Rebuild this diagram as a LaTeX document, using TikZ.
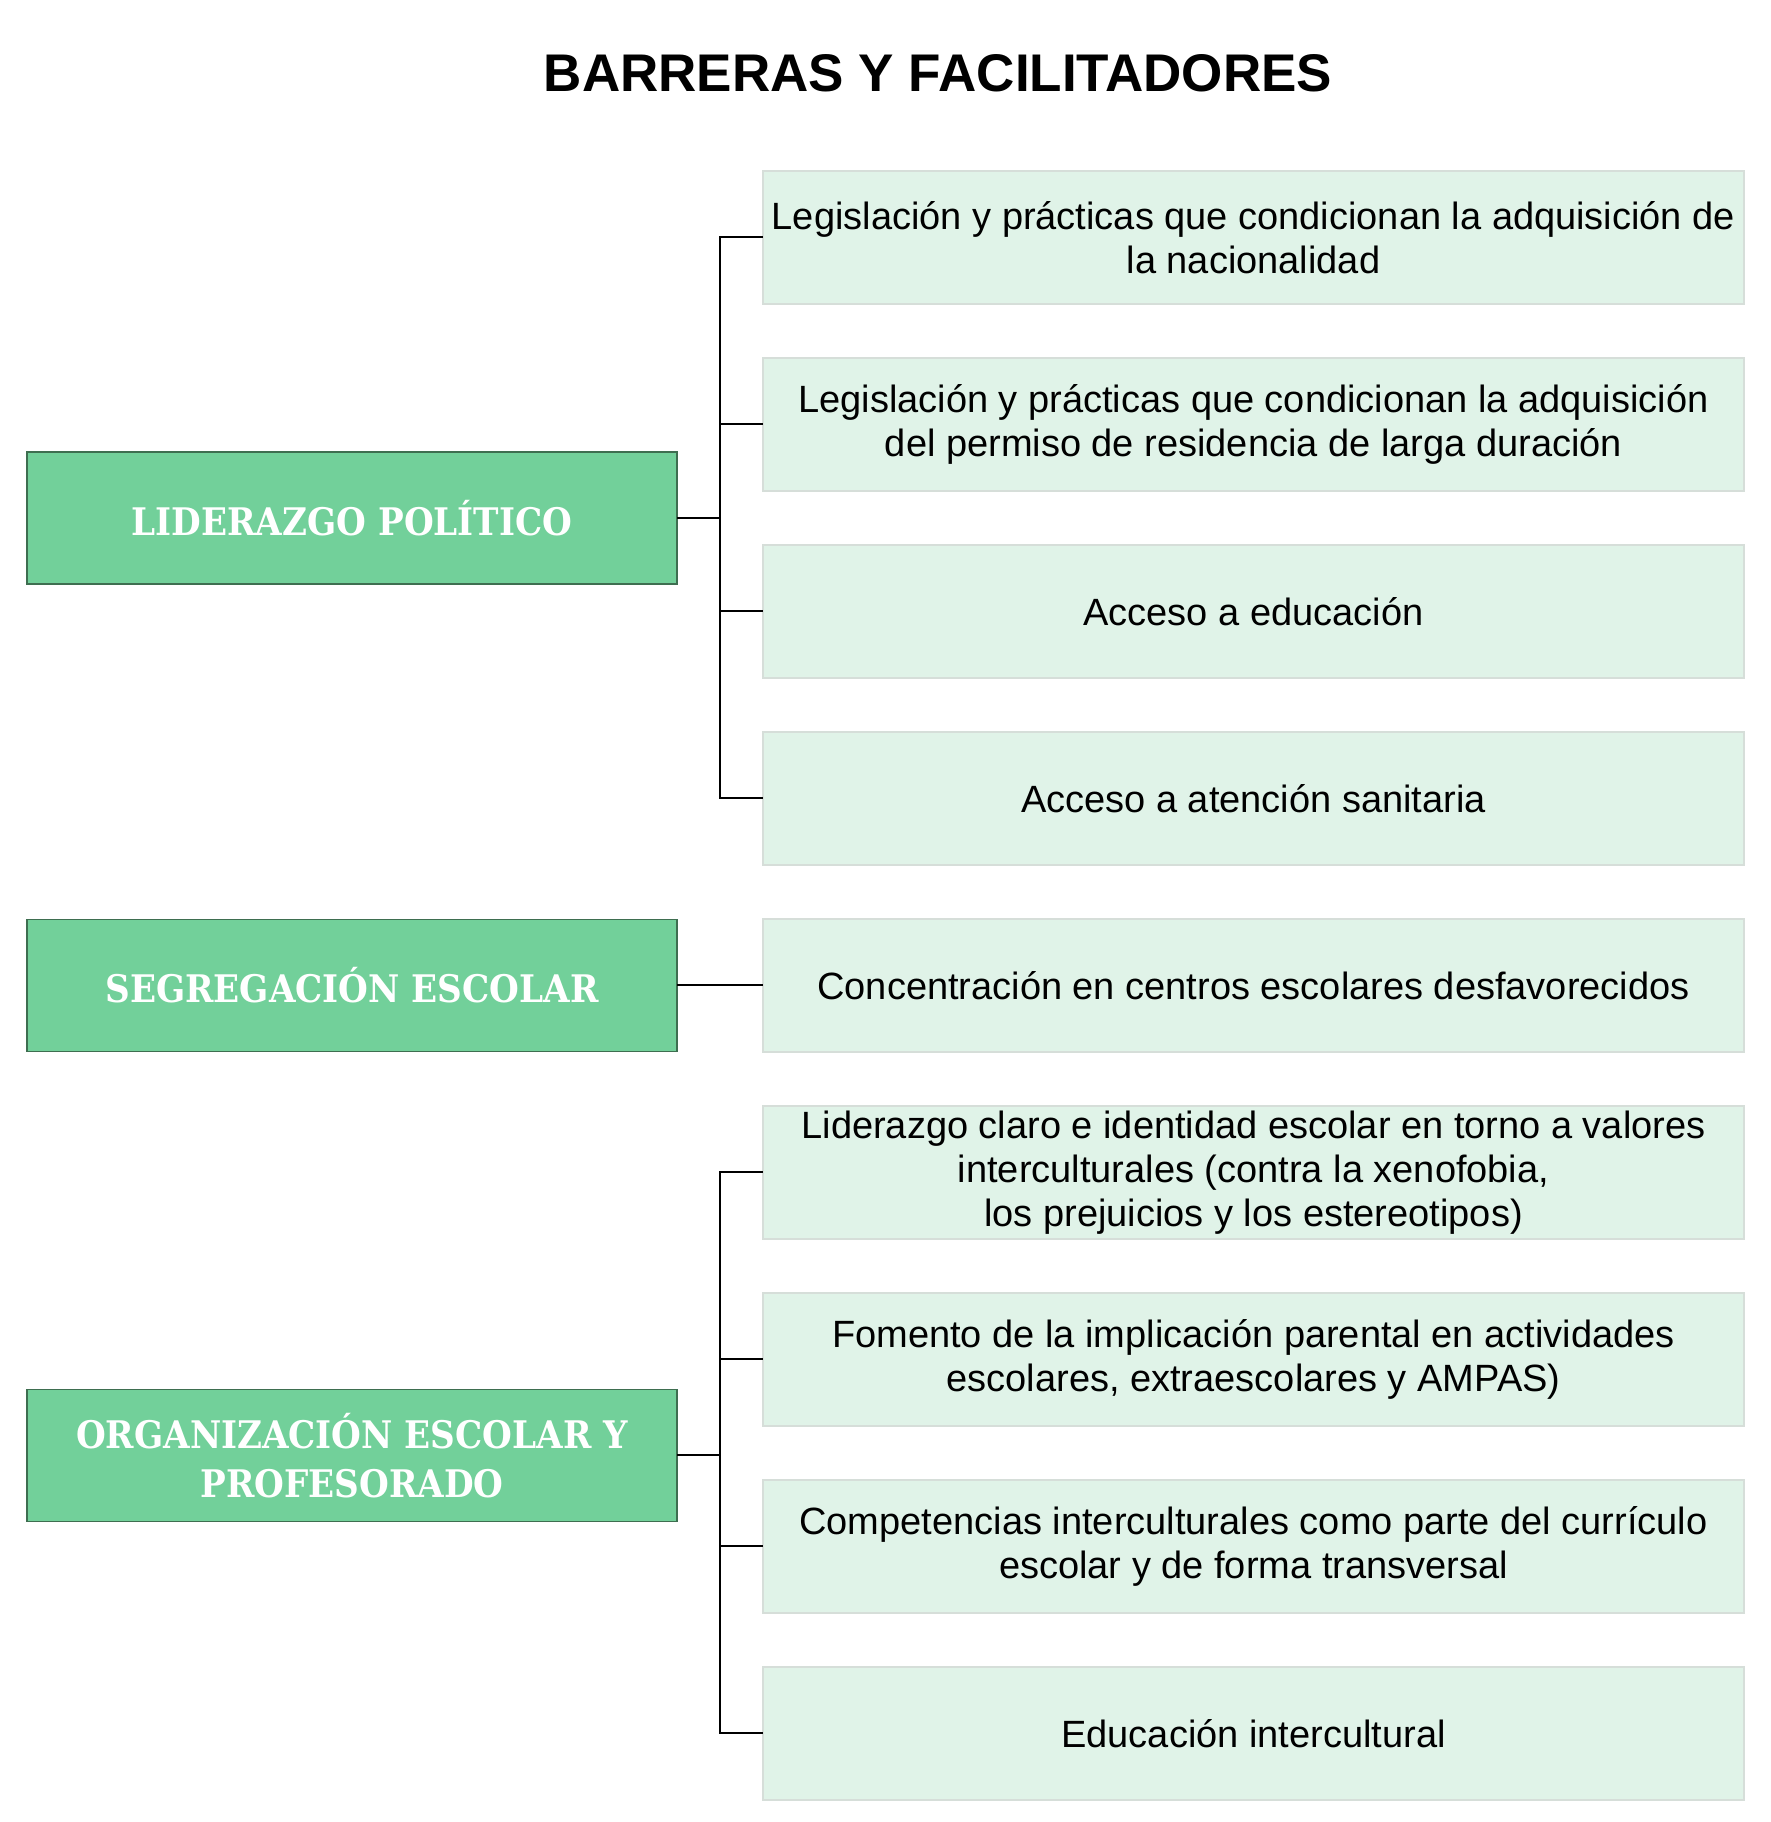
\documentclass[tikz,border=0pt]{standalone}
\usepackage{fontspec}
\setmainfont{Liberation Sans}
\newfontfamily\slabfont{DejaVu Serif Condensed}
\usepackage{xcolor}
\usepackage{tikz}
\usetikzlibrary{positioning}

\definecolor{topicgreen}{RGB}{114,208,154}
\definecolor{topicline}{RGB}{62,110,80}
\definecolor{itemgreen}{RGB}{224,243,232}
\definecolor{itemline}{RGB}{214,222,217}

\tikzset{
  topic/.style={rectangle, draw=topicline, line width=1.2pt, fill=topicgreen,
    minimum width=650pt, minimum height=132pt, inner sep=0pt, outer sep=0pt,
    align=center, text=white, font=\slabfont\bfseries\fontsize{38}{49}\selectfont},
  item/.style={rectangle, draw=itemline, line width=1.5pt, fill=itemgreen,
    minimum width=981pt, minimum height=133pt, inner sep=0pt, outer sep=0pt,
    align=center, text=black, font=\fontsize{38}{44}\selectfont},
  link/.style={line width=2pt, black}
}

\begin{document}
\begin{tikzpicture}[x=1pt, y=1pt]
      \useasboundingbox (0,0) rectangle (1770,1822);

      \node[font=\bfseries\fontsize{53}{58}\selectfont] (title) at (938,1749) {BARRERAS Y FACILITADORES};

      % items on the right
      \node[item] (i1) at (1253.5,1584.5) {Legislación y prácticas que condicionan la adquisición de\\la nacionalidad};
      \node[item, below=54pt of i1] (i2) {Legislación y prácticas que condicionan la adquisición\\del permiso de residencia de larga duración};
      \node[item, below=54pt of i2] (i3) {Acceso a educación};
      \node[item, below=54pt of i3] (i4) {Acceso a atención sanitaria};
      \node[item, below=54pt of i4] (i5) {Concentración en centros escolares desfavorecidos};
      \node[item, below=54pt of i5] (i6) {Liderazgo claro e identidad escolar en torno a valores\\interculturales (contra la xenofobia,\\los prejuicios y los estereotipos)};
      \node[item, below=54pt of i6] (i7) {Fomento de la implicación parental en actividades\\escolares, extraescolares y AMPAS)};
      \node[item, below=54pt of i7] (i8) {Competencias interculturales como parte del currículo\\escolar y de forma transversal};
      \node[item, below=54pt of i8] (i9) {Educación intercultural};

      % topics on the left
      \node[topic] (lid) at (352,1304) {LIDERAZGO POLÍTICO};
      \node[topic] (seg) at (352,836.5) {SEGREGACIÓN ESCOLAR};
      \node[topic] (org) at (352,366.5) {ORGANIZACIÓN ESCOLAR Y\\PROFESORADO};

      \foreach \n in {i1,i2,i3,i4}
        \draw[link] (lid.east) -- ([xshift=43pt]lid.east) |- (\n.west);
      \draw[link] (seg.east) -- (i5.west);
      \foreach \n in {i6,i7,i8,i9}
        \draw[link] (org.east) -- ([xshift=43pt]org.east) |- (\n.west);
    \end{tikzpicture}
\end{document}
